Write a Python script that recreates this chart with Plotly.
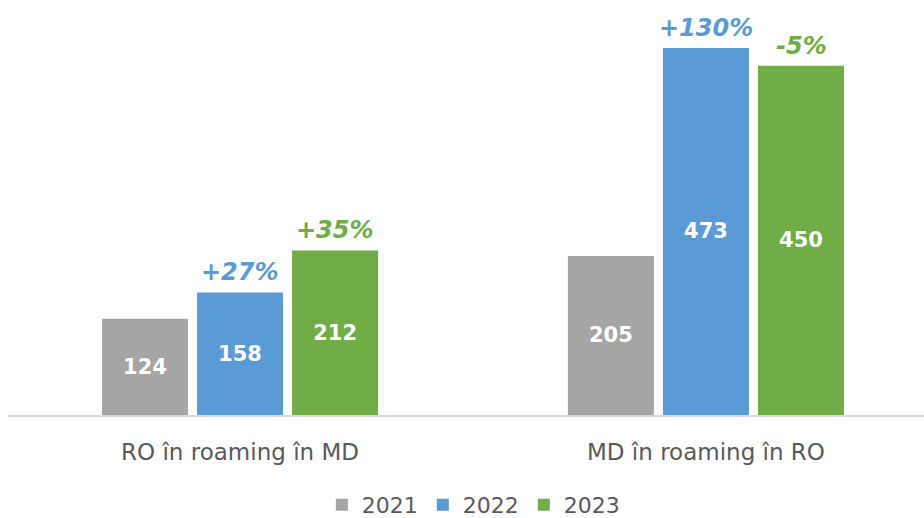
import plotly.graph_objects as go

categories = ["RO în roaming în MD", "MD în roaming în RO"]
years = ["2021", "2022", "2023"]
values_2021 = [124, 205]
values_2022 = [158, 473]
values_2023 = [212, 450]
change_2022 = ["+27%", "+130%"]
change_2023 = ["+35%", "-5%"]

colors = {"2021": "#A5A5A5", "2022": "#5B9BD5", "2023": "#70AD47"}
FONT = "DejaVu Sans"
BARGAP = 0.388
BARGROUPGAP = 0.095

series = [("2021", values_2021, None), ("2022", values_2022, change_2022), ("2023", values_2023, change_2023)]

fig = go.Figure()
for name, vals, _ in series:
    fig.add_trace(go.Bar(
        name=name, x=categories, y=vals,
        marker=dict(color=colors[name], line=dict(width=0)),
        text=[str(v) for v in vals], textposition="inside", insidetextanchor="middle",
        textfont=dict(family=FONT, size=21, color="white", weight="bold"),
        constraintext="none",
    ))

slot = (1 - BARGAP) / 3
annotations = []
for k, (name, vals, changes) in enumerate(series):
    if changes is None:
        continue
    for i, (v, c) in enumerate(zip(vals, changes)):
        annotations.append(dict(
            x=i + (k - 1) * slot, y=v, xref="x", yref="y",
            text=f"<b><i>{c}</i></b>", showarrow=False,
            yshift=20, yanchor="middle",
            font=dict(family=FONT, size=24, color=colors[name]),
        ))

fig.update_layout(
    width=924, height=518,
    margin=dict(l=8, r=0, t=27, b=103, autoexpand=False),
    paper_bgcolor="white", plot_bgcolor="white",
    barmode="group", bargap=BARGAP, bargroupgap=BARGROUPGAP,
    font=dict(family=FONT, color="#595959"),
    showlegend=True,
    legend=dict(orientation="h", x=0.508, xanchor="center", y=-0.232, yanchor="middle",
                font=dict(family=FONT, size=22, color="#595959"), traceorder="normal"),
    annotations=annotations,
)
fig.update_xaxes(
    range=[-0.498, 1.468], showgrid=False, zeroline=False,
    showline=True, linecolor="#D9D9D9", linewidth=2,
    tickfont=dict(family=FONT, size=23, color="#595959"),
    ticks="", ticklabelstandoff=15,
)
fig.update_yaxes(range=[0, 500], showgrid=False, zeroline=False, showticklabels=False, showline=False)

fig.write_html("out.html", config={"displayModeBar": False},
               post_script="document.body.style.margin='0';")
